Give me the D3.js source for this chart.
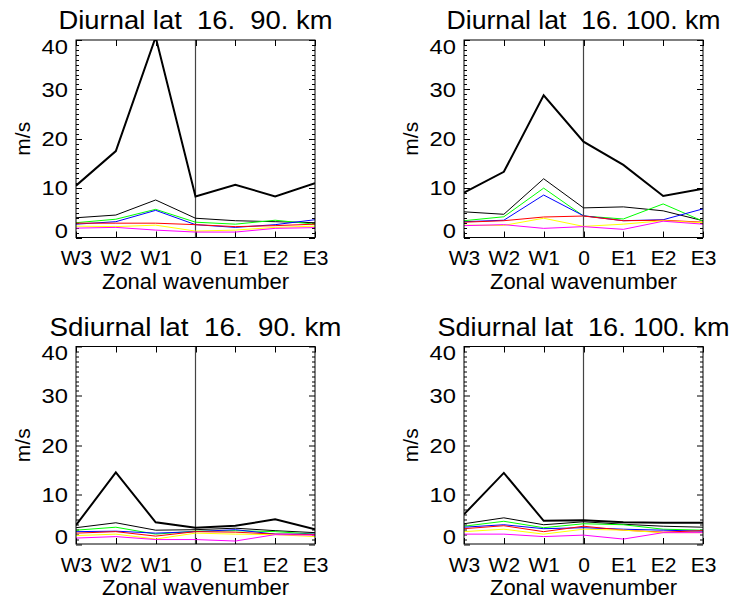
<!DOCTYPE html>
<html>
<head>
<meta charset="utf-8">
<script src="https://cdn.jsdelivr.net/npm/d3@7"></script>
<style>
html,body{margin:0;padding:0;background:#fff;}
svg{display:block;}
</style>
</head>
<body>
<script>
// ---- data ----
const categories = ["W3","W2","W1","0","E1","E2","E3"];
const yTicks = [0,10,20,30,40];
const yMinor = d3.range(0,41,1);
const titles = ["Diurnal lat  16.  90. km","Diurnal lat  16. 100. km","Sdiurnal lat  16.  90. km","Sdiurnal lat  16. 100. km"];
const seriesColors = ["#000000","#000000","#00ff00","#0000ff","#ff0000","#ffff00","#ff00ff"];
const seriesWidths = [2,1,1,1,1,1,1];

// Diurnal 90 km
const d90_thick   = [10.5,17.5,40.6,8.3,10.7,8.3,11.0];
const d90_black   = [4.0,4.55,7.6,3.9,3.4,3.2,3.0];
const d90_green   = [3.0,3.7,5.7,3.1,2.7,3.5,2.7];
const d90_blue    = [2.7,3.2,5.5,2.6,2.05,2.6,3.6];
const d90_red     = [2.9,2.9,2.9,2.6,2.2,2.4,2.7];
const d90_yellow  = [2.3,2.2,2.5,1.3,1.5,2.05,2.3];
const d90_magenta = [1.9,2.05,1.5,1.1,1.1,1.85,2.0];
// Diurnal 100 km
const d100_thick   = [9.1,13.3,28.8,19.4,14.7,8.4,9.9];
const d100_black   = [5.2,4.7,11.9,6.0,6.2,5.4,3.4];
const d100_green   = [3.4,4.2,10.0,4.35,3.75,6.8,3.3];
const d100_blue    = [3.2,3.5,8.6,4.4,3.4,3.6,5.8];
const d100_red     = [3.1,3.4,4.15,4.35,3.4,3.5,3.1];
const d100_yellow  = [2.5,2.45,3.9,2.25,2.7,3.4,3.0];
const d100_magenta = [2.4,2.6,1.85,2.2,1.65,3.3,2.7];
// Semidiurnal 90 km
const s90_thick   = [3.8,14.5,4.4,3.3,3.7,5.0,3.0];
const s90_black   = [3.3,4.3,2.8,2.9,3.2,2.7,2.3];
const s90_green   = [2.8,3.4,2.0,2.6,2.7,2.5,2.0];
const s90_blue    = [2.5,2.6,2.2,2.5,2.9,2.0,2.0];
const s90_red     = [2.2,2.5,1.6,2.5,2.4,2.0,1.9];
const s90_yellow  = [1.7,2.0,1.0,2.2,2.0,1.9,1.5];
const s90_magenta = [1.2,1.5,0.9,0.9,0.6,1.9,1.8];
// Semidiurnal 100 km
const s100_thick   = [6.0,14.4,4.7,4.8,4.4,4.3,4.3];
const s100_black   = [4.1,5.3,3.9,4.5,4.0,3.6,3.4];
const s100_green   = [3.6,4.6,3.3,4.1,3.9,3.0,2.8];
const s100_blue    = [3.4,3.9,3.1,3.3,3.0,2.8,2.6];
const s100_red     = [3.1,3.7,2.5,3.6,2.8,2.4,2.7];
const s100_yellow  = [2.5,3.0,2.0,3.0,2.8,2.3,2.3];
const s100_magenta = [2.0,2.0,1.5,1.8,1.0,2.3,2.3];

const panelSeries = [
  [d90_thick,d90_black,d90_green,d90_blue,d90_red,d90_yellow,d90_magenta],
  [d100_thick,d100_black,d100_green,d100_blue,d100_red,d100_yellow,d100_magenta],
  [s90_thick,s90_black,s90_green,s90_blue,s90_red,s90_yellow,s90_magenta],
  [s100_thick,s100_black,s100_green,s100_blue,s100_red,s100_yellow,s100_magenta]
];

// ---- layout ----
const W = 733, H = 602;
const pw = 239, ph = 197.5;
const origins = [[76,40],[464,40],[76,346.5],[464,346.5]];
const FONT = "'Liberation Sans', Arial, Helvetica, sans-serif";

const svg = d3.select("body").append("svg").attr("width",W).attr("height",H)
  .style("font-family",FONT);

const x = d3.scalePoint().domain(categories).range([0,pw]).padding(0);
const y = d3.scaleLinear().domain([0,40]).range([ph,0]);

origins.forEach((o,pi)=>{
  const g = svg.append("g").attr("transform",`translate(${o[0]},${o[1]})`);
  const clipId = "clip"+pi;
  g.append("clipPath").attr("id",clipId).append("rect").attr("x",0).attr("y",0).attr("width",pw).attr("height",ph);

  // title
  const t = g.append("text").attr("x",pw/2).attr("y",-10.7).attr("text-anchor","middle")
    .style("white-space","pre").attr("font-size",26.5).attr("fill","#000").text(titles[pi]);
  t.attr("textLength", titles[pi].startsWith("S") ? 292 : 274).attr("lengthAdjust","spacingAndGlyphs");

  // y label
  g.append("text").attr("transform",`translate(-46,${ph/2}) rotate(-90)`)
    .attr("text-anchor","middle").attr("font-size",21).attr("fill","#000").text("m/s");

  // y axis labels via d3 axis
  const ya = g.append("g").call(d3.axisLeft(y).tickValues(yTicks).tickSize(0).tickPadding(8).tickFormat(d3.format("d")));
  ya.select(".domain").remove();
  ya.selectAll("text").attr("font-size",20).attr("font-family",FONT).attr("fill","#000")
    .attr("textLength",d=>String(d).length*13.2).attr("lengthAdjust","spacingAndGlyphs")
    .attr("dy",d=> d===0 ? "-0.02em" : (d===40 ? "0.65em" : "0.34em"));

  // x axis labels via d3 axis
  const xa = g.append("g").attr("transform",`translate(0,${ph})`)
    .call(d3.axisBottom(x).tickSize(0).tickPadding(0));
  xa.select(".domain").remove();
  xa.selectAll("text").attr("font-size",21).attr("font-family",FONT).attr("fill","#000")
    .attr("y",27.5).attr("dy",0);

  g.append("text").attr("x",pw/2).attr("y",ph+51).attr("text-anchor","middle")
    .attr("font-size",22).attr("fill","#000").text("Zonal wavenumber");

  // ticks
  const tk = g.append("g").attr("stroke","#000").attr("stroke-width",1);
  yMinor.forEach(v=>{
    const len = (v%10===0)?6:3;
    const yy = Math.round(y(v))+0.5;
    tk.append("line").attr("x1",0).attr("x2",len).attr("y1",yy).attr("y2",yy);
    tk.append("line").attr("x1",pw).attr("x2",pw-len).attr("y1",yy).attr("y2",yy);
  });
  categories.forEach(c=>{
    const xx = Math.round(x(c))+0.5;
    tk.append("line").attr("x1",xx).attr("x2",xx).attr("y1",ph).attr("y2",ph-6);
    tk.append("line").attr("x1",xx).attr("x2",xx).attr("y1",0).attr("y2",6);
  });

  // zero line
  g.append("line").attr("x1",x("0")).attr("x2",x("0")).attr("y1",0).attr("y2",ph)
    .attr("stroke","#444").attr("stroke-width",1.2);

  // series
  const line = d3.line().x((d,i)=>x(categories[i])).y(d=>y(d));
  const sg = g.append("g").attr("clip-path",`url(#${clipId})`);
  panelSeries[pi].forEach((s,si)=>{
    sg.append("path").datum(s).attr("d",line).attr("fill","none")
      .attr("stroke",seriesColors[si]).attr("stroke-width",seriesWidths[si])
      .attr("stroke-linejoin","miter");
  });

  // frame
  g.append("rect").attr("x",0).attr("y",0).attr("width",pw).attr("height",ph)
    .attr("fill","none").attr("stroke","#000").attr("stroke-width",1);
});
</script>
</body>
</html>
